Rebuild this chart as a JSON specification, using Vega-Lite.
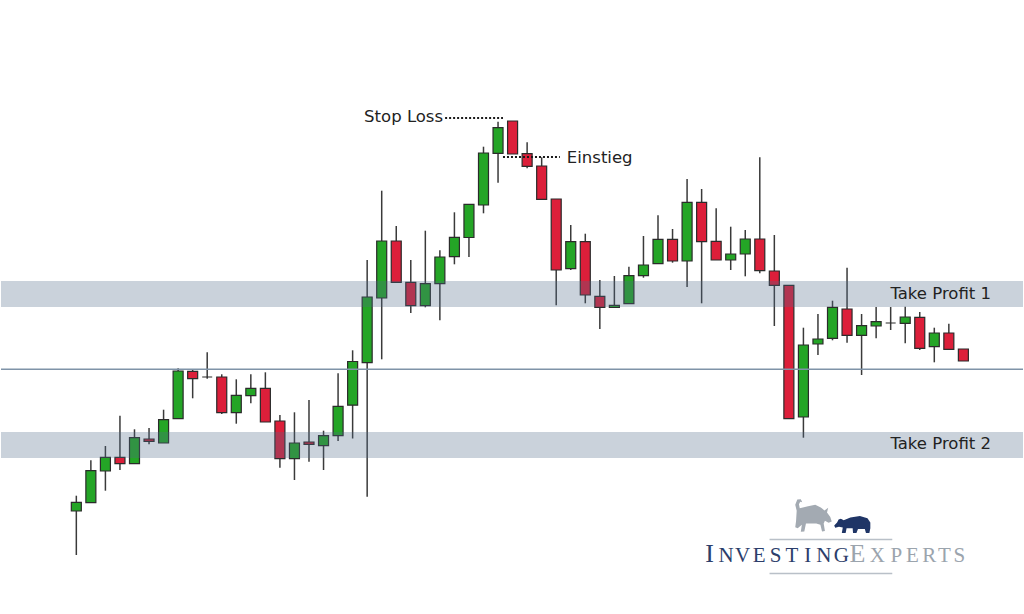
{
  "$schema": "https://vega.github.io/schema/vega-lite/v6.json",
  "width": 1024,
  "height": 614,
  "autosize": {"type": "fit", "contains": "padding"},
  "padding": 0,
  "background": "white",
  "config": {"view": {"stroke": null}},
  "datasets": {
    "candles": [
      {"i":1,"o":103,"h":118.3,"l":59,"c":111.7},
      {"i":2,"o":111.3,"h":153.7,"l":111.3,"c":143.3},
      {"i":3,"o":143,"h":168,"l":123.3,"c":156.7},
      {"i":4,"o":156.7,"h":198.3,"l":144,"c":150.3},
      {"i":5,"o":150.3,"h":184.7,"l":150.3,"c":176.3},
      {"i":6,"o":175,"h":186,"l":169.7,"c":172.7},
      {"i":7,"o":171,"h":204.3,"l":171,"c":194.3},
      {"i":8,"o":195.3,"h":245.7,"l":195.3,"c":243},
      {"i":9,"o":242.7,"h":244.7,"l":215.7,"c":235.3},
      {"i":10,"o":237,"h":261.7,"l":235.3,"c":237},
      {"i":11,"o":237,"h":239.7,"l":200,"c":201.3},
      {"i":12,"o":201.3,"h":234.7,"l":190.3,"c":218.7},
      {"i":13,"o":218.3,"h":239.7,"l":210.7,"c":225.7},
      {"i":14,"o":225.7,"h":241.7,"l":192,"c":192},
      {"i":15,"o":193,"h":199,"l":146.3,"c":155.3},
      {"i":16,"o":155.3,"h":201.7,"l":134,"c":171},
      {"i":17,"o":172,"h":214,"l":152.3,"c":169.7},
      {"i":18,"o":168.3,"h":183.3,"l":144,"c":178.3},
      {"i":19,"o":178.3,"h":240.7,"l":173,"c":207.7},
      {"i":20,"o":208.8,"h":263.7,"l":175.5,"c":252.5},
      {"i":21,"o":251.3,"h":354,"l":117.3,"c":317},
      {"i":22,"o":316,"h":423.3,"l":254.7,"c":373},
      {"i":23,"o":373,"h":388,"l":331.7,"c":331.7},
      {"i":24,"o":331.7,"h":354,"l":301,"c":308.3},
      {"i":25,"o":308.3,"h":383.3,"l":306.7,"c":330.3},
      {"i":26,"o":330.3,"h":363.7,"l":293.7,"c":357},
      {"i":27,"o":357.3,"h":401.7,"l":349.7,"c":376.7},
      {"i":28,"o":376.5,"h":409.7,"l":357,"c":409.7},
      {"i":29,"o":409,"h":467.3,"l":400.7,"c":461},
      {"i":30,"o":460.7,"h":492.3,"l":431.3,"c":486.3},
      {"i":31,"o":493,"h":493,"l":460,"c":460},
      {"i":32,"o":460.3,"h":471.7,"l":445.7,"c":447.7},
      {"i":33,"o":448,"h":456.7,"l":414.7,"c":414.7},
      {"i":34,"o":415,"h":415,"l":308.7,"c":344},
      {"i":35,"o":345.3,"h":389,"l":344,"c":372.3},
      {"i":36,"o":372.3,"h":380.3,"l":310.7,"c":319},
      {"i":37,"o":317.7,"h":334,"l":285,"c":306.7},
      {"i":38,"o":306.5,"h":338,"l":306.5,"c":308.7},
      {"i":39,"o":310.3,"h":347.3,"l":310.3,"c":338.3},
      {"i":40,"o":338.3,"h":378,"l":336.3,"c":349},
      {"i":41,"o":350.3,"h":398.7,"l":350.3,"c":374.7},
      {"i":42,"o":374.7,"h":385,"l":351.3,"c":353},
      {"i":43,"o":353,"h":435,"l":327,"c":411.7},
      {"i":44,"o":411.7,"h":425,"l":310.7,"c":372.3},
      {"i":45,"o":372.7,"h":405.7,"l":354,"c":354},
      {"i":46,"o":354,"h":387.3,"l":344,"c":360},
      {"i":47,"o":360,"h":384,"l":337.7,"c":375},
      {"i":48,"o":375,"h":456.7,"l":340.7,"c":343.3},
      {"i":49,"o":343,"h":379,"l":288,"c":328.7},
      {"i":50,"o":328.7,"h":328.7,"l":195.3,"c":195.3},
      {"i":51,"o":197,"h":286.3,"l":176.3,"c":269},
      {"i":52,"o":270,"h":300,"l":259,"c":275},
      {"i":53,"o":275.7,"h":313.3,"l":273.7,"c":306.7},
      {"i":54,"o":305,"h":346.3,"l":271.3,"c":278.7},
      {"i":55,"o":278.7,"h":300,"l":239,"c":288.3},
      {"i":56,"o":288,"h":307,"l":275.7,"c":292.3},
      {"i":57,"o":291,"h":307,"l":284,"c":291},
      {"i":58,"o":290.7,"h":307.3,"l":270.7,"c":297},
      {"i":59,"o":296.7,"h":302,"l":264,"c":265.7},
      {"i":60,"o":267.3,"h":286.3,"l":251.7,"c":281},
      {"i":61,"o":281,"h":290.3,"l":264.7,"c":264.7},
      {"i":62,"o":265,"h":265,"l":253,"c":253}
    ],
    "bands": [
      {"lo": 307, "hi": 333},
      {"lo": 156, "hi": 182}
    ],
    "level": [{"y": 244.7}],
    "dotted": [
      {"x1": 26.36, "x2": 30.34, "y": 496},
      {"x1": 30.34, "x2": 34.25, "y": 457}
    ],
    "rightLabels": [
      {"x": 26.22, "y": 497, "t": "Stop Loss"},
      {"x": 63.9, "y": 320, "t": "Take Profit 1"},
      {"x": 63.9, "y": 170, "t": "Take Profit 2"}
    ],
    "leftLabels": [
      {"x": 34.73, "y": 456, "t": "Einstieg"}
    ],
    "logoLetters": [
      {"x": 44.55, "t": "I", "cap": "big", "word": "Investing"},
      {"x": 45.68, "t": "N", "cap": "small", "word": "Investing"},
      {"x": 46.81, "t": "V", "cap": "small", "word": "Investing"},
      {"x": 47.95, "t": "E", "cap": "small", "word": "Investing"},
      {"x": 49.08, "t": "S", "cap": "small", "word": "Investing"},
      {"x": 50.21, "t": "T", "cap": "small", "word": "Investing"},
      {"x": 51.3, "t": "I", "cap": "small", "word": "Investing"},
      {"x": 52.4, "t": "N", "cap": "small", "word": "Investing"},
      {"x": 53.61, "t": "G", "cap": "small", "word": "Investing"},
      {"x": 54.71, "t": "E", "cap": "big", "word": "Experts"},
      {"x": 56.08, "t": "X", "cap": "small", "word": "Experts"},
      {"x": 57.39, "t": "P", "cap": "small", "word": "Experts"},
      {"x": 58.49, "t": "E", "cap": "small", "word": "Experts"},
      {"x": 59.66, "t": "R", "cap": "small", "word": "Experts"},
      {"x": 60.69, "t": "T", "cap": "small", "word": "Experts"},
      {"x": 61.72, "t": "S", "cap": "small", "word": "Experts"}
    ],
    "logoLines": [
      {"x1": 48.67, "x2": 57.11, "y": 74.5},
      {"x1": 48.67, "x2": 57.11, "y": 40.5}
    ],
    "bull": [{"x": 51.6, "y": 97}],
    "bear": [{"x": 54.36, "y": 90}]
  },
  "layer": [
    {
      "data": {"name": "candles"},
      "mark": {"type": "rule", "color": "#3a3a3a", "strokeWidth": 1.5},
      "encoding": {
        "x": {"field": "i", "type": "quantitative", "axis": null, "scale": {"domain": [-4.18, 66.1], "nice": false, "zero": false, "padding": 0}},
        "y": {"field": "l", "type": "quantitative", "axis": null, "scale": {"domain": [0, 614], "nice": false, "zero": false, "padding": 0}},
        "y2": {"field": "h"}
      }
    },
    {
      "data": {"name": "candles"},
      "mark": {"type": "bar", "size": 10, "stroke": "#2b2b2b", "strokeWidth": 1.2},
      "encoding": {
        "x": {"field": "i", "type": "quantitative", "axis": null, "scale": {"domain": [-4.18, 66.1], "nice": false, "zero": false, "padding": 0}},
        "y": {"field": "o", "type": "quantitative", "axis": null, "scale": {"domain": [0, 614], "nice": false, "zero": false, "padding": 0}},
        "y2": {"field": "c"},
        "fill": {"condition": {"test": "datum.c >= datum.o", "value": "#24a526"}, "value": "#dc1f3a"}
      }
    },
    {
      "data": {"name": "bands"},
      "mark": {"type": "rect", "fill": "#4f6a88", "opacity": 0.3},
      "encoding": {
        "y": {"field": "lo", "type": "quantitative", "axis": null, "scale": {"domain": [0, 614], "nice": false, "zero": false, "padding": 0}},
        "y2": {"field": "hi"}
      }
    },
    {
      "data": {"name": "level"},
      "mark": {"type": "rule", "color": "#7f93a8", "strokeWidth": 1.5},
      "encoding": {
        "y": {"field": "y", "type": "quantitative", "axis": null, "scale": {"domain": [0, 614], "nice": false, "zero": false, "padding": 0}}
      }
    },
    {
      "data": {"name": "dotted"},
      "mark": {"type": "rule", "color": "#1a1a1a", "strokeWidth": 2, "strokeDash": [2, 2]},
      "encoding": {
        "x": {"field": "x1", "type": "quantitative", "axis": null, "scale": {"domain": [-4.18, 66.1], "nice": false, "zero": false, "padding": 0}},
        "x2": {"field": "x2"},
        "y": {"field": "y", "type": "quantitative", "axis": null, "scale": {"domain": [0, 614], "nice": false, "zero": false, "padding": 0}}
      }
    },
    {
      "data": {"name": "rightLabels"},
      "mark": {"type": "text", "align": "right", "baseline": "middle", "font": "DejaVu Sans", "fontSize": 16.5, "color": "#222222"},
      "encoding": {
        "x": {"field": "x", "type": "quantitative", "axis": null, "scale": {"domain": [-4.18, 66.1], "nice": false, "zero": false, "padding": 0}},
        "y": {"field": "y", "type": "quantitative", "axis": null, "scale": {"domain": [0, 614], "nice": false, "zero": false, "padding": 0}},
        "text": {"field": "t"}
      }
    },
    {
      "data": {"name": "leftLabels"},
      "mark": {"type": "text", "align": "left", "baseline": "middle", "font": "DejaVu Sans", "fontSize": 16.5, "color": "#222222"},
      "encoding": {
        "x": {"field": "x", "type": "quantitative", "axis": null, "scale": {"domain": [-4.18, 66.1], "nice": false, "zero": false, "padding": 0}},
        "y": {"field": "y", "type": "quantitative", "axis": null, "scale": {"domain": [0, 614], "nice": false, "zero": false, "padding": 0}},
        "text": {"field": "t"}
      }
    },
    {
      "data": {"name": "logoLines"},
      "mark": {"type": "rule", "color": "#b9c0c8", "strokeWidth": 1.5},
      "encoding": {
        "x": {"field": "x1", "type": "quantitative", "axis": null, "scale": {"domain": [-4.18, 66.1], "nice": false, "zero": false, "padding": 0}},
        "x2": {"field": "x2"},
        "y": {"field": "y", "type": "quantitative", "axis": null, "scale": {"domain": [0, 614], "nice": false, "zero": false, "padding": 0}}
      }
    },
    {
      "data": {"name": "logoLetters"},
      "mark": {"type": "text", "align": "center", "baseline": "alphabetic", "font": "Liberation Serif", "y": {"expr": "height - 52"}},
      "encoding": {
        "x": {"field": "x", "type": "quantitative", "axis": null, "scale": {"domain": [-4.18, 66.1], "nice": false, "zero": false, "padding": 0}},
        "text": {"field": "t"},
        "size": {"field": "cap", "type": "nominal", "legend": null, "scale": {"domain": ["big", "small"], "range": [26, 21]}},
        "color": {"field": "word", "type": "nominal", "legend": null, "scale": {"domain": ["Investing", "Experts"], "range": ["#2c3e6b", "#9ba4ad"]}}
      }
    },
    {
      "data": {"name": "bull"},
      "mark": {"type": "point", "filled": true, "opacity": 1, "color": "#a3aab2", "size": 1700,
        "shape": "M -0.75 -0.3 L -0.82 -0.6 L -0.72 -0.85 L -0.55 -0.86 L -0.48 -0.72 L -0.58 -0.74 L -0.64 -0.62 L -0.6 -0.42 L -0.2 -0.52 L 0.15 -0.6 L 0.42 -0.46 L 0.6 -0.32 L 0.78 -0.45 L 0.72 -0.22 L 0.88 0.0 L 0.95 0.22 L 0.8 0.28 L 0.62 0.18 L 0.56 0.32 L 0.62 0.68 L 0.48 0.7 L 0.4 0.38 L 0.2 0.32 L -0.3 0.32 L -0.38 0.7 L -0.55 0.72 L -0.5 0.38 L -0.7 0.55 L -0.82 0.5 L -0.78 0.2 Z"},
      "encoding": {
        "x": {"field": "x", "type": "quantitative", "axis": null, "scale": {"domain": [-4.18, 66.1], "nice": false, "zero": false, "padding": 0}},
        "y": {"field": "y", "type": "quantitative", "axis": null, "scale": {"domain": [0, 614], "nice": false, "zero": false, "padding": 0}}
      }
    },
    {
      "data": {"name": "bear"},
      "mark": {"type": "point", "filled": true, "opacity": 1, "color": "#1f3566", "size": 1444,
        "shape": "M -0.95 0.08 L -0.8 -0.08 L -0.72 -0.24 L -0.6 -0.28 L -0.45 -0.2 L -0.1 -0.34 L 0.4 -0.42 L 0.8 -0.3 L 0.95 -0.08 L 0.95 0.22 L 0.9 0.48 L 0.72 0.48 L 0.66 0.26 L 0.3 0.26 L 0.22 0.48 L 0.04 0.48 L 0.02 0.22 L -0.3 0.22 L -0.35 0.48 L -0.55 0.48 L -0.5 0.18 L -0.7 0.15 L -0.9 0.2 Z"},
      "encoding": {
        "x": {"field": "x", "type": "quantitative", "axis": null, "scale": {"domain": [-4.18, 66.1], "nice": false, "zero": false, "padding": 0}},
        "y": {"field": "y", "type": "quantitative", "axis": null, "scale": {"domain": [0, 614], "nice": false, "zero": false, "padding": 0}}
      }
    }
  ]
}
